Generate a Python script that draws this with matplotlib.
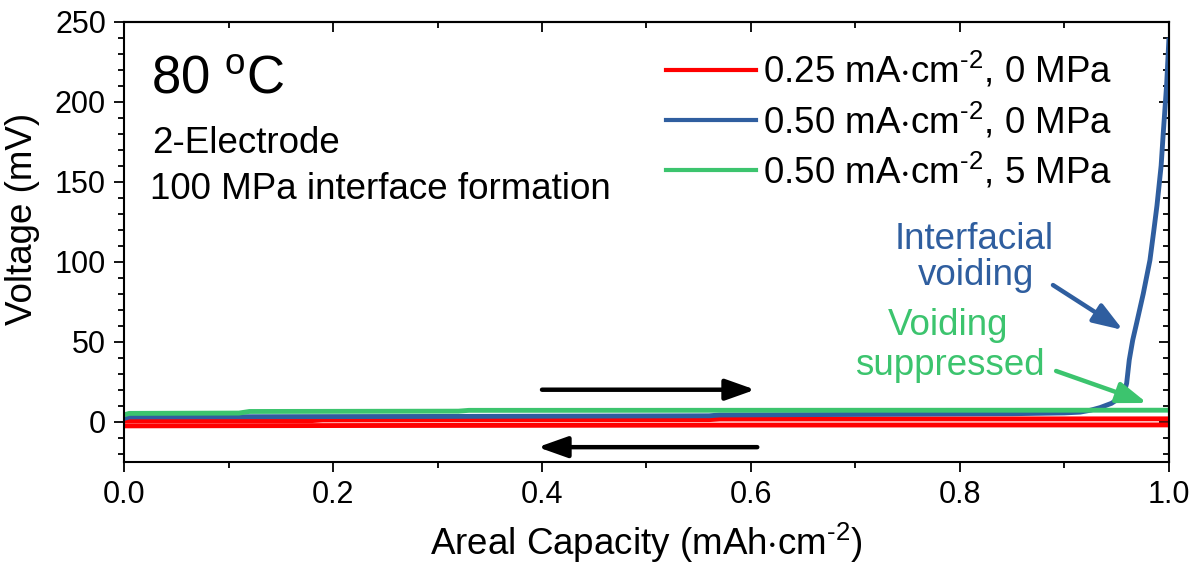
import matplotlib
matplotlib.use("Agg")
import matplotlib.pyplot as plt
from matplotlib.ticker import MultipleLocator, FormatStrFormatter
from matplotlib.lines import Line2D

plt.rcParams['font.family'] = ['Liberation Sans', 'DejaVu Sans']
plt.rcParams['mathtext.fontset'] = 'custom'
plt.rcParams['mathtext.rm'] = 'Liberation Sans'
plt.rcParams['mathtext.it'] = 'Liberation Sans:italic'
plt.rcParams['mathtext.bf'] = 'Liberation Sans:bold'
plt.rcParams['mathtext.default'] = 'regular'

# ---- data ----
red_chg_x = [0.0, 0.18, 0.19, 0.56, 0.57, 1.0]
red_chg_v = [0.5, 0.7, 1.1, 1.3, 1.7, 1.8]
red_dis_x = [1.0, 0.6, 0.2, 0.0]
red_dis_v = [-2.0, -2.1, -2.4, -2.6]

blue_x = [0.0, 0.005, 0.3, 0.56, 0.57, 0.85, 0.9, 0.915, 0.925, 0.934, 0.945,
          0.952, 0.957, 0.9595, 0.962, 0.9653, 0.969, 0.9754, 0.9818, 0.9856,
          0.9885, 0.9925, 0.9945, 0.9978, 1.0]
blue_v = [2.0, 3.0, 3.3, 3.7, 4.2, 5.0, 5.5, 6.0, 7.2, 8.8, 11.5,
          14.5, 18.0, 24.0, 38.6, 51.0, 61.5, 80.0, 101.0, 120.0,
          135.0, 160.0, 180.0, 211.0, 240.0]

green_x = [0.0, 0.005, 0.11, 0.12, 0.32, 0.33, 1.0]
green_v = [4.3, 5.2, 5.4, 6.4, 6.6, 7.1, 7.2]

labels = [r"0.25 mA$\cdot$cm$^{\text{-}2}$, 0 MPa",
          r"0.50 mA$\cdot$cm$^{\text{-}2}$, 0 MPa",
          r"0.50 mA$\cdot$cm$^{\text{-}2}$, 5 MPa"]

xticks = [0.0, 0.2, 0.4, 0.6, 0.8, 1.0]
yticks = [0, 50, 100, 150, 200, 250]

RED = '#FF0000'
BLUE = '#2F5E9F'
GREEN = '#3CC46E'

fig = plt.figure(figsize=(11.96, 5.65), dpi=100)
ax = fig.add_axes([0.1037, 0.1828, 0.8737, 0.7788])

LW = 3.5
ax.plot(red_chg_x, red_chg_v, color=RED, lw=LW, solid_capstyle='butt', zorder=2)
ax.plot(red_dis_x, red_dis_v, color=RED, lw=LW, solid_capstyle='butt', zorder=2)
ax.plot(blue_x, blue_v, color=BLUE, lw=LW, solid_capstyle='butt', zorder=2.1)
ax.plot(green_x, green_v, color=GREEN, lw=LW, solid_capstyle='butt', zorder=2.2)

ax.set_xlim(0, 1.0)
ax.set_ylim(-25, 250)
ax.set_xticks(xticks)
ax.set_yticks(yticks)
ax.xaxis.set_minor_locator(MultipleLocator(0.1))
ax.yaxis.set_minor_locator(MultipleLocator(10))
ax.xaxis.set_major_formatter(FormatStrFormatter('%.1f'))
ax.tick_params(which='major', direction='out', length=7, width=1.3, labelsize=22, pad=6)
ax.tick_params(which='minor', direction='out', length=4.5, width=1.3)
for s in ax.spines.values():
    s.set_linewidth(1.5)

top = ax.secondary_xaxis('top')
top.set_xticks(xticks)
top.xaxis.set_minor_locator(MultipleLocator(0.1))
top.tick_params(which='major', direction='in', length=7, width=1.3, labeltop=False)
top.tick_params(which='minor', direction='in', length=4.5, width=1.3)
top.spines['top'].set_linewidth(1.5)
right = ax.secondary_yaxis('right')
right.set_yticks(yticks)
right.yaxis.set_minor_locator(MultipleLocator(10))
right.tick_params(which='major', direction='in', length=7, width=1.3, labelright=False)
right.tick_params(which='minor', direction='in', length=4.5, width=1.3)
right.spines['right'].set_linewidth(1.5)

ax.set_xlabel(r"Areal Capacity (mAh$\cdot$cm$^{\text{-}2}$)", fontsize=26.5, labelpad=8)
ax.set_ylabel("Voltage (mV)", fontsize=26.5)
ax.yaxis.set_label_coords(-0.080, 0.552)

# legend
handles = [Line2D([], [], color=c, lw=3) for c in (RED, BLUE, GREEN)]
ax.legend(handles, labels, loc='upper left', bbox_to_anchor=(0.5187, 0.934),
          frameon=False, borderpad=0, borderaxespad=0, handlelength=2.45,
          handletextpad=0.18, labelspacing=0.27, fontsize=26.5)

# texts
ax.text(0.026, 205.4, "80 $^{o}$C", fontsize=38, ha='left', va='baseline')
ax.text(0.027, 168, "2-Electrode", fontsize=26.5, ha='left', va='baseline')
ax.text(0.025, 139, "100 MPa interface formation", fontsize=26.5, ha='left', va='baseline')

ax.text(0.814, 107.8, "Interfacial", fontsize=26.5, color=BLUE, ha='center', va='baseline')
ax.text(0.815, 85.4, "voiding", fontsize=26.5, color=BLUE, ha='center', va='baseline')
ax.text(0.789, 54.2, "Voiding", fontsize=26.5, color=GREEN, ha='center', va='baseline')
ax.text(0.790, 29.2, "suppressed", fontsize=26.5, color=GREEN, ha='center', va='baseline')

def arrow(x0, y0, x1, y1, color):
    ax.annotate('', xy=(x1, y1), xytext=(x0, y0),
                arrowprops=dict(arrowstyle='-|>,head_length=0.9,head_width=0.32',
                                color=color, lw=3.2, shrinkA=0, shrinkB=0,
                                mutation_scale=20),
                zorder=5)

arrow(0.400, 20.0, 0.604, 20.0, 'black')
arrow(0.606, -15.9, 0.396, -15.9, 'black')
arrow(0.889, 85.4, 0.956, 57.3, BLUE)
arrow(0.892, 31.7, 0.979, 11.7, GREEN)

fig.savefig("out.png", dpi=100)
